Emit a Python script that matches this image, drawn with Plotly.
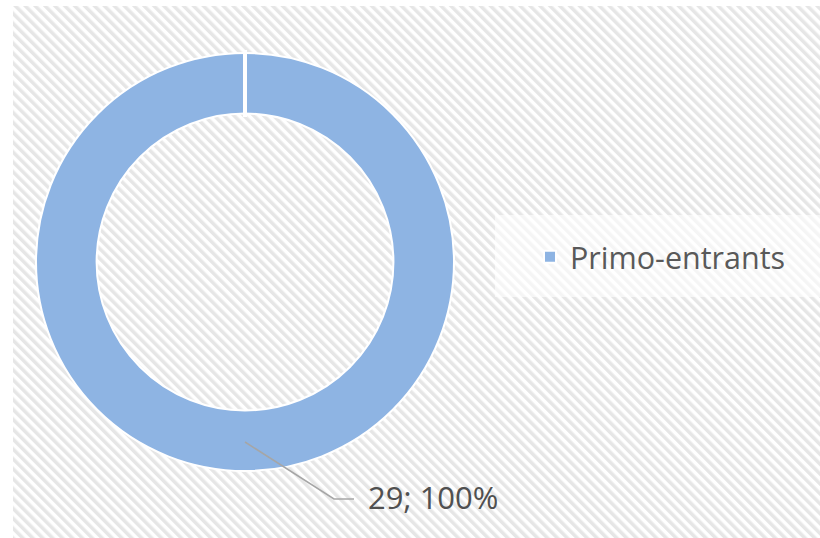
import base64
import plotly.graph_objects as go

# ---- data ----
labels = ["Primo-entrants"]
values = [29]
colors = ["#8EB4E3"]

W, H = 820, 538
total = sum(values)
pct = round(values[0] / total * 100)
label_text = f"{values[0]}; {pct}%"

# ---- hatched background (decorative) ----
bg_w, bg_h = W - 13, H - 6
svg = f'''<svg xmlns="http://www.w3.org/2000/svg" width="{bg_w}" height="{bg_h}" viewBox="0 0 {bg_w} {bg_h}">
<defs><pattern id="p" width="7" height="7" patternUnits="userSpaceOnUse" patternTransform="rotate(-45)">
<rect width="7" height="7" fill="#ffffff"/><rect width="3.5" height="7" fill="#e6e6e6"/></pattern></defs>
<rect width="{bg_w}" height="{bg_h}" fill="url(#p)"/></svg>'''
src = "data:image/svg+xml;base64," + base64.b64encode(svg.encode()).decode()

def px(x):
    return x / W

def py(y):
    return 1 - y / H

fig = go.Figure()
fig.add_trace(go.Pie(
    labels=labels,
    values=values,
    hole=0.71,
    sort=False,
    direction="clockwise",
    rotation=0,
    marker=dict(colors=colors, line=dict(color="white", width=2)),
    textinfo="none",
    hoverinfo="label+value+percent",
    domain=dict(x=[px(36), px(454)], y=[py(471), py(53)]),
    showlegend=True,
))

fig.update_layout(
    width=W, height=H,
    margin=dict(l=0, r=0, t=0, b=0, pad=0),
    paper_bgcolor="white",
    plot_bgcolor="rgba(0,0,0,0)",
    font=dict(family="Open Sans, sans-serif", color="#595959", size=30),
    images=[dict(source=src, xref="paper", yref="paper", x=px(13), y=py(6),
                 sizex=bg_w / W, sizey=bg_h / H, sizing="stretch",
                 xanchor="left", yanchor="top", layer="below")],
    legend=dict(x=px(530), xanchor="left", y=py(257), yanchor="middle",
                bgcolor="rgba(0,0,0,0)", font=dict(size=30.5, color="#595959"),
                itemclick=False),
    shapes=[
        dict(type="rect", xref="paper", yref="paper", x0=px(495), x1=px(820),
             y0=py(297), y1=py(215), fillcolor="rgba(255,255,255,0.6)",
             line=dict(width=0), layer="below"),
        dict(type="line", xref="paper", yref="paper", x0=px(245), x1=px(245),
             y0=py(50), y1=py(117), line=dict(color="white", width=4)),
        dict(type="path", xref="paper", yref="paper",
             path=f"M {px(245)},{py(442)} L {px(334)},{py(499)} L {px(354)},{py(499)}",
             line=dict(color="#a6a6a6", width=1.5)),
    ],
    annotations=[dict(text=label_text, xref="paper", yref="paper", x=px(366), y=py(497),
                      xanchor="left", yanchor="middle", showarrow=False,
                      font=dict(size=31, color="#505050"))],
)

fig.write_html("out.html", config={"displayModeBar": False},
               post_script="document.body.style.margin='0';")
